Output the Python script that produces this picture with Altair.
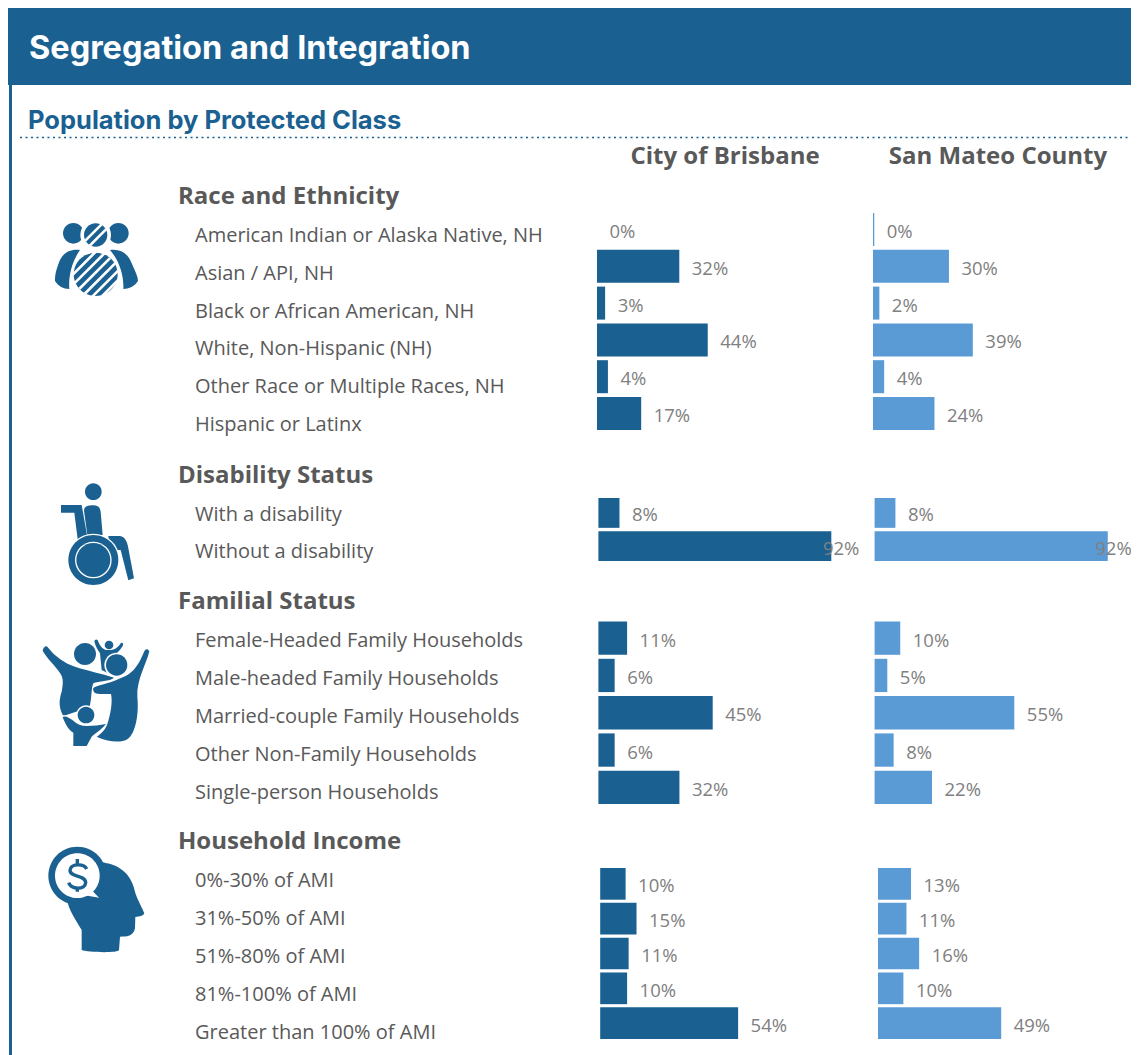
import altair as alt
import pandas as pd

DARK = "#1A6192"
LIGHT = "#5B9BD5"
GREY = "#808080"
TEXT = "#595959"
W, H = 1123, 1047
HEAD_FONT = "Inter"
BODY_FONT = "Open Sans"

# ---------- data ----------
race_rows = ["American Indian or Alaska Native, NH", "Asian / API, NH", "Black or African American, NH",
             "White, Non-Hispanic (NH)", "Other Race or Multiple Races, NH", "Hispanic or Latinx"]
race_city = [0, 32.4, 3.2, 43.6, 4.3, 17.4]
race_city_lab = ["0%", "32%", "3%", "44%", "4%", "17%"]
race_county = [0.5, 29.9, 2.5, 39.3, 4.4, 24.2]
race_county_lab = ["0%", "30%", "2%", "39%", "4%", "24%"]

dis_rows = ["With a disability", "Without a disability"]
dis_city = [8.3, 91.7]
dis_city_lab = ["8%", "92%"]
dis_county = [8.2, 91.8]
dis_county_lab = ["8%", "92%"]

fam_rows = ["Female-Headed Family Households", "Male-headed Family Households",
            "Married-couple Family Households", "Other Non-Family Households", "Single-person Households"]
fam_city = [11.3, 6.4, 45.0, 6.4, 31.9]
fam_city_lab = ["11%", "6%", "45%", "6%", "32%"]
fam_county = [10.1, 5.0, 55.0, 7.5, 22.6]
fam_county_lab = ["10%", "5%", "55%", "8%", "22%"]

inc_rows = ["0%-30% of AMI", "31%-50% of AMI", "51%-80% of AMI", "81%-100% of AMI", "Greater than 100% of AMI"]
inc_city = [10.0, 14.3, 11.2, 10.6, 54.3]
inc_city_lab = ["10%", "15%", "11%", "10%", "54%"]
inc_county = [13.0, 11.2, 16.2, 10.0, 48.5]
inc_county_lab = ["13%", "11%", "16%", "10%", "49%"]

# ---------- layout (page pixels, converted to chart pixels by P) ----------
PX_PER_100 = 254
def P(v):
    return v - 8

GROUPS = [
    dict(title="Race and Ethnicity", title_y=197, rows=race_rows, city=race_city, city_lab=race_city_lab,
         county=race_county, county_lab=race_county_lab, x0=(597, 873), bars=(213, 430), pad=0.103, labels=(236, 425)),
    dict(title="Disability Status", title_y=476, rows=dis_rows, city=dis_city, city_lab=dis_city_lab,
         county=dis_county, county_lab=dis_county_lab, x0=(598.4, 874.6), bars=(498, 561), pad=0.1, labels=(515, 552)),
    dict(title="Familial Status", title_y=602, rows=fam_rows, city=fam_city, city_lab=fam_city_lab,
         county=fam_county, county_lab=fam_county_lab, x0=(598.4, 874.6), bars=(621.5, 804), pad=0.107, labels=(641, 793)),
    dict(title="Household Income", title_y=842, rows=inc_rows, city=inc_city, city_lab=inc_city_lab,
         county=inc_county, county_lab=inc_county_lab, x0=(600.2, 878), bars=(868, 1039), pad=0.09, labels=(881, 1033)),
]

ONE = alt.Data(values=[{"a": 1}])
layers = []

def rect(x, x2, y, y2, color):
    return alt.Chart(ONE).mark_rect(color=color).encode(
        x=alt.value(P(x)), x2=alt.value(P(x2)), y=alt.value(P(y)), y2=alt.value(P(y2)))

def label(txt, x, y, size, color, font, weight="normal", align="left"):
    return alt.Chart(ONE).mark_text(text=txt, font=font, fontSize=size, color=color, fontWeight=weight,
                                    align=align, baseline="middle").encode(
        x=alt.value(P(x)), y=alt.value(P(y)))

layers.append(rect(8, 1139, 6, 85, DARK))
layers.append(rect(9, 12, 85, 1055, DARK))
layers.append(label("Segregation and Integration", 29, 49, 32.5, "#ffffff", HEAD_FONT, "bold"))
layers.append(label("Population by Protected Class", 28, 121, 25.5, DARK, HEAD_FONT, "bold"))
layers.append(alt.Chart(ONE).mark_rule(color=DARK, strokeWidth=1.5, strokeDash=[2, 3.5]).encode(
    x=alt.value(P(20)), x2=alt.value(P(1139)), y=alt.value(P(137.5))))
layers.append(label("City of Brisbane", 725, 157, 24, TEXT, BODY_FONT, "bold", "center"))
layers.append(label("San Mateo County", 998, 157, 24, TEXT, BODY_FONT, "bold", "center"))

for g in GROUPS:
    layers.append(label(g["title"], 178, g["title_y"], 24, TEXT, BODY_FONT, "bold"))
    rows_df = pd.DataFrame({"row": g["rows"]})
    layers.append(alt.Chart(rows_df).mark_text(font=BODY_FONT, fontSize=20, color=TEXT, align="left",
                                               baseline="middle").encode(
        x=alt.value(P(195)),
        y=alt.Y("row:N", axis=None, scale=alt.Scale(type="point", domain=g["rows"],
                                                    range=[P(g["labels"][0]), P(g["labels"][1])], padding=0)),
        text="row:N"))
    for vals, labs, x0, col, big_dx in [(g["city"], g["city_lab"], g["x0"][0], DARK, -8.4),
                                        (g["county"], g["county_lab"], g["x0"][1], LIGHT, -12.5)]:
        df = pd.DataFrame({"row": g["rows"], "value": vals, "lab": labs})
        xenc = alt.X("value:Q", axis=None, stack=None,
                     scale=alt.Scale(domain=[0, 100], range=[P(x0), P(x0) + PX_PER_100]))
        yenc = alt.Y("row:N", axis=None,
                     scale=alt.Scale(type="band", domain=g["rows"], range=[P(g["bars"][0]), P(g["bars"][1])],
                                     paddingInner=g["pad"], paddingOuter=0))
        layers.append(alt.Chart(df).mark_bar(color=col, opacity=1).encode(x=xenc, y=yenc))
        layers.append(alt.Chart(df).transform_filter("datum.value < 90").mark_text(
            font=BODY_FONT, fontSize=18.5, color=GREY, align="left", baseline="middle", dx=12.5, dy=2.5
        ).encode(x=xenc, y=yenc, text="lab:N"))
        layers.append(alt.Chart(df).transform_filter("datum.value >= 90").mark_text(
            font=BODY_FONT, fontSize=18.5, color=GREY, align="left", baseline="middle", dx=big_dx, dy=2.5
        ).encode(x=xenc, y=yenc, text="lab:N"))

# ---------- icons: decorative paths, written in 3x-zoomed local coordinates ----------
def circle(cx, cy, r, ry=None):
    ry = r if ry is None else ry
    k = 0.5523
    return (f"M{cx-r} {cy}C{cx-r} {cy-k*ry} {cx-k*r} {cy-ry} {cx} {cy-ry}"
            f"C{cx+k*r} {cy-ry} {cx+r} {cy-k*ry} {cx+r} {cy}"
            f"C{cx+r} {cy+k*ry} {cx+k*r} {cy+ry} {cx} {cy+ry}"
            f"C{cx-k*r} {cy+ry} {cx-r} {cy+k*ry} {cx-r} {cy}Z")

def stripe(cx, cy, r, d, w):
    # white diagonal band across a circle, offset d along the (1,1) normal, limited to the chord
    half = (max(r * r - (abs(d) - w) ** 2, 0)) ** 0.5 if abs(d) > w else r
    s = 0.7071
    nx, ny = s, s
    tx, ty = s, -s
    pts = [(cx + nx*(d-w/2) + tx*half, cy + ny*(d-w/2) + ty*half),
           (cx + nx*(d+w/2) + tx*half, cy + ny*(d+w/2) + ty*half),
           (cx + nx*(d+w/2) - tx*half, cy + ny*(d+w/2) - ty*half),
           (cx + nx*(d-w/2) - tx*half, cy + ny*(d-w/2) - ty*half)]
    return "M" + "L".join(f"{a:.1f} {b:.1f}" for a, b in pts) + "Z"

W_ = "#ffffff"
ICONS = []
# people
o = (30, 205)
ICONS += [(o, circle(130, 85, 31), DARK), (o, circle(265, 85, 31), DARK),
          (o, circle(197, 90, 46), W_), (o, circle(197, 90, 35), DARK)]
ICONS += [(o, stripe(197, 90, 35, d, 8), W_) for d in (-10, 10)]
ICONS += [(o, "M150 135C120 130 96 145 86 175C78 195 74 215 75 228C85 244 100 252 118 252C115 215 125 170 150 135Z", DARK),
          (o, "M240 135C270 130 294 145 305 175C314 195 324 215 324 228C314 244 297 252 280 252C282 215 270 170 240 135Z", DARK),
          (o, circle(197, 208, 66, 65), DARK)]
ICONS += [(o, stripe(197, 208, 65, d, 8), W_) for d in (-48, -26, -4, 18, 40, 60)]
# wheelchair
o = (30, 470)
ICONS += [(o, circle(190, 65, 25), DARK),
          (o, "M162 122C162 110 172 106 190 106C204 106 210 112 212 125L218 195L172 195Z", DARK),
          (o, "M93 105L155 105L172 200L143 208L133 128L93 128Z", DARK),
          (o, "M235 198L270 198C285 200 292 215 295 235L312 325L295 331L272 240L240 240Z", DARK),
          (o, circle(190, 270, 79), W_), (o, circle(190, 270, 75), DARK),
          (o, circle(190, 270, 55), W_), (o, circle(190, 270, 51), DARK)]
# family
o = (30, 630)
ICONS += [(o, "M38 62C40 50 48 46 52 50C75 80 105 100 135 110C170 122 215 130 252 143C240 155 205 152 190 160C183 175 185 215 178 232L100 258C88 235 85 215 95 185C100 160 100 145 92 132C75 105 50 85 38 62Z", DARK),
          (o, circle(165, 72, 33), DARK),
          (o, "M193 33C198 25 203 28 205 35C210 48 218 58 230 60L245 60C258 58 268 48 272 40C277 35 282 42 278 48C270 62 258 72 250 78L248 115L232 128L215 120L210 70C203 60 195 45 193 33Z", DARK),
          (o, circle(237, 45, 13), DARK),
          (o, circle(260, 105, 37), W_), (o, circle(260, 105, 32), DARK),
          (o, "M360 62C354 50 345 55 340 65C325 100 310 122 285 135L250 150C220 160 195 165 187 172C185 185 190 195 210 195L240 195C245 215 240 250 228 285C222 300 205 315 195 320C225 335 270 345 295 330C320 310 330 250 325 200C322 150 352 100 360 62Z", W_),
          (o, "M358 64C352 53 345 58 342 66C327 102 312 125 287 138L252 153C222 163 197 168 190 174C188 183 192 192 210 192L243 192C248 215 243 250 231 285C225 300 210 315 200 320C228 333 270 342 293 327C318 308 327 250 322 200C319 150 350 100 358 64Z", DARK),
          (o, circle(168, 255, 29), W_), (o, circle(168, 255, 25), DARK),
          (o, "M94 260C105 250 118 260 132 270C142 280 155 285 170 285C190 285 212 282 232 278C215 305 198 312 188 322L174 352L126 352L126 310C112 300 100 280 94 260Z", W_),
          (o, "M98 262C105 255 115 262 130 272C140 282 155 288 170 288C190 288 210 285 228 282C210 303 195 310 185 320L170 348L130 348L130 308C115 300 105 280 98 262Z", DARK)]
# head with dollar bubble
o = (30, 835)
ICONS += [(o, "M205 80C250 85 300 100 315 170C318 185 340 225 343 235C340 245 320 245 316 246L315 280C310 305 290 305 270 305L267 345C265 355 170 352 155 345L155 285C140 260 115 225 110 190Z", DARK),
          (o, circle(142, 122, 87), DARK), (o, circle(142, 122, 67), W_),
          (o, "M185 165L207 188L160 180Z", W_)]
for o, path, col in ICONS:
    layers.append(alt.Chart(ONE).mark_point(shape=path, size=4 / 9, filled=True, fill=col, opacity=1,
                                            strokeWidth=0).encode(
        x=alt.value(o[0] - 8), y=alt.value(o[1] - 8)))
for path, sw in [("M170 102C162 85 122 85 120 106C120 128 166 118 167 143C166 165 124 165 116 143", 3.4),
                 ("M142 72L142 88M142 156L142 170", 3.4)]:
    layers.append(alt.Chart(ONE).mark_point(shape=path, size=4 / 9, filled=False, stroke=DARK, opacity=1,
                                            strokeWidth=sw).encode(
        x=alt.value(30 - 8), y=alt.value(835 - 8)))

chart = alt.layer(*layers).resolve_scale(x="independent", y="independent").properties(
    width=W, height=H, padding=0, autosize="none", background="#ffffff"
).configure_view(stroke=None)

chart.save("out.html", embed_options={"renderer": "svg", "actions": False})
